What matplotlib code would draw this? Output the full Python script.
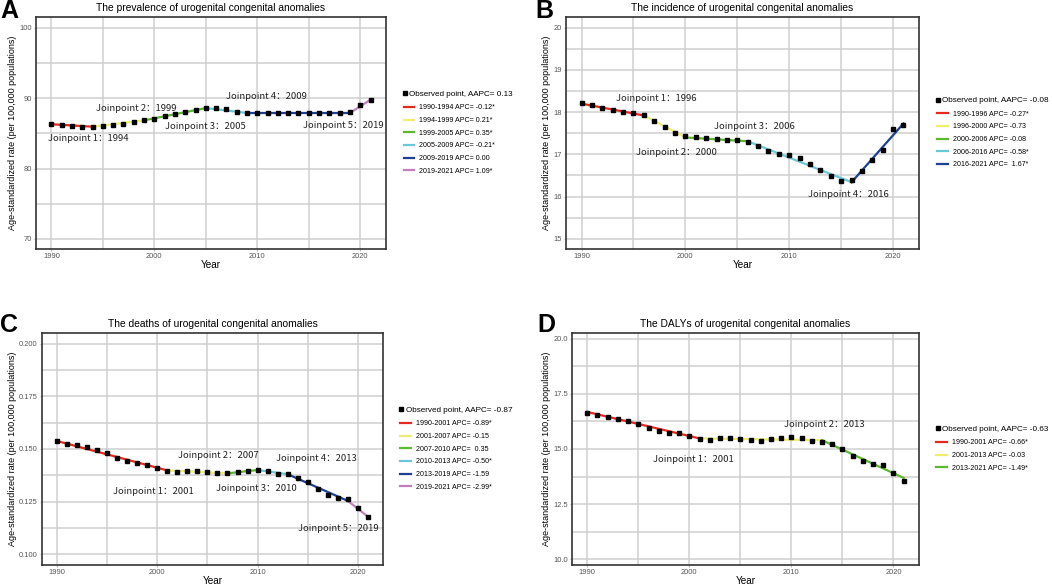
import matplotlib
matplotlib.use('Agg')
import matplotlib.pyplot as plt
from matplotlib.ticker import MultipleLocator, FormatStrFormatter

years = list(range(1990, 2022))

# A: prevalence
prev_obs = [86.35, 86.16, 86.02, 85.97, 85.97, 86.07, 86.2, 86.4, 86.6, 86.87,
            87.1, 87.4, 87.7, 88.0, 88.35, 88.6, 88.58, 88.44, 88.1, 87.87,
            87.87, 87.96, 87.96, 87.96, 87.96, 87.92, 87.87, 87.87, 87.87, 88.0,
            89.05, 89.8]
prev_jp = [1990, 1994, 1999, 2005, 2009, 2019, 2021]
prev_fit = [86.3, 85.95, 86.85, 88.6, 87.9, 87.9, 89.8]
prev_labels = ['1990-1994 APC= -0.12*', '1994-1999 APC= 0.21*', '1999-2005 APC= 0.35*',
               '2005-2009 APC= -0.21*', '2009-2019 APC= 0.00', '2019-2021 APC= 1.09*']
prev_aapc = '0.13'

# B: incidence
inc_obs = [18.21, 18.16, 18.10, 18.06, 18.0, 17.98, 17.92, 17.79, 17.64, 17.50,
           17.43, 17.41, 17.38, 17.37, 17.35, 17.34, 17.30, 17.20, 17.08, 17.01,
           16.99, 16.91, 16.77, 16.62, 16.49, 16.37, 16.39, 16.61, 16.87, 17.11,
           17.60, 17.69]
inc_jp = [1990, 1996, 2000, 2006, 2016, 2021]
inc_fit = [18.2, 17.92, 17.40, 17.31, 16.34, 17.73]
inc_labels = ['1990-1996 APC= -0.27*', '1996-2000 APC= -0.73', '2000-2006 APC= -0.08',
              '2006-2016 APC= -0.58*', '2016-2021 APC=  1.67*']
inc_aapc = '-0.08'

# C: deaths
death_obs = [0.1538, 0.1525, 0.1517, 0.1508, 0.1495, 0.1479, 0.1459, 0.1441, 0.1432, 0.1424,
             0.1410, 0.1396, 0.1391, 0.1396, 0.1394, 0.1389, 0.1386, 0.1384, 0.1391, 0.1396,
             0.1400, 0.1394, 0.1380, 0.1380, 0.1364, 0.1342, 0.1309, 0.1283, 0.1267, 0.1261,
             0.1217, 0.1176]
death_jp = [1990, 2001, 2007, 2010, 2013, 2019, 2021]
death_fit = [0.1538, 0.1398, 0.1384, 0.1400, 0.1380, 0.1253, 0.1178]
death_labels = ['1990-2001 APC= -0.89*', '2001-2007 APC= -0.15', '2007-2010 APC=  0.35',
                '2010-2013 APC= -0.50*', '2013-2019 APC= -1.59', '2019-2021 APC= -2.99*']
death_aapc = '-0.87'

# D: DALYs
daly_obs = [16.65, 16.53, 16.44, 16.34, 16.25, 16.12, 15.97, 15.82, 15.74, 15.71,
            15.60, 15.47, 15.43, 15.49, 15.49, 15.44, 15.43, 15.38, 15.44, 15.52,
            15.55, 15.49, 15.35, 15.32, 15.21, 15.0, 14.68, 14.45, 14.30, 14.26,
            13.89, 13.56]
daly_jp = [1990, 2001, 2013, 2021]
daly_fit = [16.68, 15.48, 15.40, 13.69]
daly_labels = ['1990-2001 APC= -0.66*', '2001-2013 APC= -0.03', '2013-2021 APC= -1.49*']
daly_aapc = '-0.63'

seg_colors = ['#e8281e', '#eeed70', '#5cb831', '#6ac8d8', '#1d3f94', '#c27fc0']
jp_font = ['Noto Sans CJK SC', 'DejaVu Sans']
plt.rcParams['font.family'] = ['Liberation Sans', 'DejaVu Sans']


def draw_panel(ax, letter, letter_pos, title, obs, jp, fit, labels, aapc, ylim, major, fmt, notes):
    lines = []
    for i in range(len(jp) - 1):
        ln, = ax.plot(jp[i:i + 2], fit[i:i + 2], color=seg_colors[i], lw=1.6,
                      label=labels[i], zorder=3)
        lines.append(ln)
    pts, = ax.plot(years, obs, 's', color='black', ms=2.8, zorder=4,
                   label='Observed point, AAPC= ' + aapc)
    ax.set_xlim(1988.5, 2022.5)
    ax.set_ylim(*ylim)
    ax.xaxis.set_major_locator(MultipleLocator(10))
    ax.xaxis.set_minor_locator(MultipleLocator(5))
    ax.yaxis.set_major_locator(MultipleLocator(major))
    ax.yaxis.set_minor_locator(MultipleLocator(major / 2))
    ax.yaxis.set_major_formatter(FormatStrFormatter(fmt))
    ax.grid(which='both', color='#cfcfcf', lw=1.1, zorder=0)
    ax.set_axisbelow(True)
    ax.tick_params(which='major', length=1.5, color='#bbbbbb', labelsize=5.4,
                   labelcolor='#555555', pad=1.5)
    ax.tick_params(which='minor', length=0)
    for s in ax.spines.values():
        s.set_color('#333333')
        s.set_linewidth(1.2)
    ax.set_title(title, fontsize=7.4, pad=4)
    ax.set_xlabel('Year', fontsize=7.2, labelpad=0)
    ax.set_ylabel('Age-standardized rate (per 100,000 populations)', fontsize=6.5, labelpad=1.5)
    for k, (x, y) in enumerate(notes):
        ax.text(x, y, 'Joinpoint %d：%d' % (k + 1, jp[k + 1]), ha='center', va='center',
                fontsize=6.8, family=jp_font, color='#222222', zorder=5)

    # legend: observed point entry above the segment entries
    n = len(lines)
    obs_y = 0.472 + (n + 1) / 2 * 13 / 232
    leg_obs = ax.legend([pts], [pts.get_label()], loc='center left',
                        bbox_to_anchor=(1.036, obs_y), frameon=False, borderpad=0,
                        handlelength=0.5, handletextpad=0.3, fontsize=5.9,
                        markerscale=0.9)
    ax.add_artist(leg_obs)
    ax.legend(lines, labels, loc='center left', bbox_to_anchor=(1.04, 0.472),
              frameon=False, borderpad=0, handlelength=1.55, handletextpad=0.7,
              labelspacing=0.8, fontsize=5.1)
    ax.text(letter_pos[0], letter_pos[1], letter, transform=ax.transAxes, fontsize=18,
            fontweight='bold', va='center', ha='center')


fig = plt.figure(figsize=(10.52, 5.87), dpi=100)
axA = fig.add_axes([0.0342, 0.5758, 0.3327, 0.3952])
axB = fig.add_axes([0.538, 0.5758, 0.3356, 0.3952])
axC = fig.add_axes([0.0399, 0.0375, 0.3241, 0.3952])
axD = fig.add_axes([0.5437, 0.0375, 0.3298, 0.3952])

draw_panel(axA, 'A', (-0.077, 1.026), 'The prevalence of urogenital congenital anomalies',
           prev_obs, prev_jp, prev_fit, prev_labels, prev_aapc,
           (68.55, 101.55), 10, '%d',
           [(1993.6, 84.2), (1998.2, 88.48), (2005.0, 86.0), (2010.86, 90.28), (2018.4, 86.07)])
draw_panel(axB, 'B', (-0.06, 1.026), 'The incidence of urogenital congenital anomalies',
           inc_obs, inc_jp, inc_fit, inc_labels, inc_aapc,
           (14.76, 20.25), 1, '%d',
           [(1997.23, 18.32), (1999.16, 17.04), (2006.66, 17.67), (2015.66, 16.05)])
draw_panel(axC, 'C', (-0.097, 1.034), 'The deaths of urogenital congenital anomalies',
           death_obs, death_jp, death_fit, death_labels, death_aapc,
           (0.0948, 0.2052), 0.025, '%.3f',
           [(1999.6, 0.1297), (2006.08, 0.1470), (2009.9, 0.1312), (2015.9, 0.1457), (2018.1, 0.1120)])
draw_panel(axD, 'D', (-0.075, 1.034), 'The DALYs of urogenital congenital anomalies',
           daly_obs, daly_jp, daly_fit, daly_labels, daly_aapc,
           (9.74, 20.26), 2.5, '%.1f',
           [(2000.36, 14.51), (2013.2, 16.11)])

fig.savefig('out.png', dpi=100)
